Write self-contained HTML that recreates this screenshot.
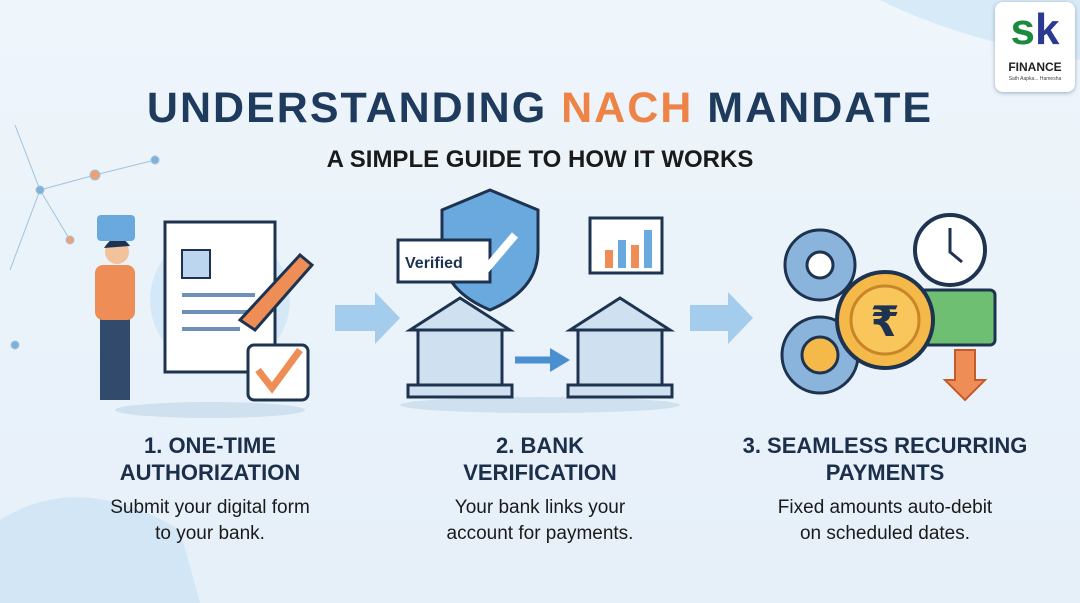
<!DOCTYPE html>
<html><head><meta charset="utf-8"><style>
body{margin:0;width:1080px;height:603px;overflow:hidden;background:linear-gradient(180deg,#eef5fb 0%,#e6f0f9 100%);font-family:"Liberation Sans",sans-serif;position:relative}
.t{position:absolute;text-align:center;color:#1b2f4a}
h1{position:absolute;top:84px;left:0;width:1080px;margin:0;text-align:center;font-size:43px;font-weight:900;color:#1e3a5c;letter-spacing:2px}
h1 span{color:#ee8347}
.sub{top:146px;left:0;width:1080px;font-size:24px;font-weight:700;color:#1a1a1a}
.h{font-size:22px;font-weight:900;line-height:27px;top:432px}
.d{font-size:19px;line-height:26px;top:495px;color:#1a1a1a}
</style></head><body>
<svg width="1080" height="603" style="position:absolute;left:0;top:0">
<path d="M0 520 Q80 470 180 530 L200 603 L0 603Z" fill="#d2e6f6"/>
<path d="M880 0 Q960 40 1080 60 L1080 0Z" fill="#d7eaf8"/>
<g stroke="#9ec3e0" stroke-width="1" fill="#7fb1d8"><line x1="15" y1="125" x2="40" y2="190"/><line x1="40" y1="190" x2="95" y2="175"/><line x1="40" y1="190" x2="10" y2="270"/><line x1="40" y1="190" x2="70" y2="240"/><line x1="95" y1="175" x2="155" y2="160"/><circle cx="40" cy="190" r="4"/><circle cx="95" cy="175" r="5" fill="#f0a070"/><circle cx="155" cy="160" r="4"/><circle cx="70" cy="240" r="4" fill="#f0a070"/><circle cx="15" cy="345" r="4"/></g>
<ellipse cx="210" cy="410" rx="95" ry="8" fill="#cfe0ef"/><ellipse cx="540" cy="405" rx="140" ry="8" fill="#cfe0ef"/>
<rect x="100" y="310" width="30" height="90" fill="#324a6b"/><rect x="95" y="265" width="40" height="55" rx="8" fill="#ee8e56"/><circle cx="117" cy="252" r="12" fill="#f2c29c"/><path d="M104 248 Q117 228 130 246Z" fill="#1e3350"/>
<rect x="97" y="215" width="38" height="26" rx="4" fill="#6aa9dd"/>
<circle cx="220" cy="300" r="70" fill="#d4e8f8"/>
<rect x="165" y="222" width="110" height="150" fill="#fff" stroke="#1e3350" stroke-width="3"/>
<rect x="182" y="250" width="28" height="28" fill="#bcd6ef" stroke="#1e3350" stroke-width="2"/>
<g stroke="#6e90b8" stroke-width="4"><line x1="182" y1="295" x2="255" y2="295"/><line x1="182" y1="312" x2="250" y2="312"/><line x1="182" y1="329" x2="240" y2="329"/></g>
<path d="M240 320 L300 255 L312 265 L255 330Z" fill="#ee8e56" stroke="#1e3350" stroke-width="3"/>
<rect x="248" y="345" width="60" height="55" rx="6" fill="#fff" stroke="#1e3350" stroke-width="3"/><path d="M258 370 L272 388 L300 350" stroke="#ee8e56" stroke-width="7" fill="none"/>
<path d="M335 305 L375 305 L375 292 L400 318 L375 344 L375 331 L335 331Z" fill="#9cc8ea" opacity=".9"/>
<path d="M690 305 L728 305 L728 292 L753 318 L728 344 L728 331 L690 331Z" fill="#9cc8ea" opacity=".9"/>
<g fill="#cfe0f1" stroke="#1e3350" stroke-width="3">
<path d="M410 330 L460 298 L510 330Z"/><rect x="418" y="330" width="84" height="55"/><rect x="408" y="385" width="104" height="12"/>
<path d="M570 330 L620 298 L670 330Z"/><rect x="578" y="330" width="84" height="55"/><rect x="568" y="385" width="104" height="12"/>
<path d="M490 190 L538 210 L538 250 Q538 290 490 310 Q442 290 442 250 L442 210Z" fill="#6aa9dd"/>
<rect x="398" y="240" width="92" height="42" fill="#fff"/>
<rect x="590" y="218" width="72" height="55" fill="#fff"/>
</g>
<path d="M470 250 L487 268 L515 235" stroke="#fff" stroke-width="8" fill="none"/>
<text x="405" y="268" font-size="16" font-weight="700" fill="#1e3350" font-family="Liberation Sans">Verified</text>
<g fill="#ee8e56"><rect x="605" y="250" width="8" height="18"/><rect x="618" y="240" width="8" height="28" fill="#6aa9dd"/><rect x="631" y="245" width="8" height="23"/><rect x="644" y="230" width="8" height="38" fill="#6aa9dd"/></g>
<path d="M515 360 L555 360" stroke="#4a8fd0" stroke-width="7"/><path d="M550 348 L570 360 L550 372Z" fill="#4a8fd0"/>
<circle cx="820" cy="265" r="35" fill="#8bb4dc" stroke="#1e3350" stroke-width="3"/><circle cx="820" cy="265" r="13" fill="#fff" stroke="#1e3350" stroke-width="3"/>
<circle cx="820" cy="355" r="38" fill="#8bb4dc" stroke="#1e3350" stroke-width="3"/><circle cx="820" cy="355" r="18" fill="#f5b94a" stroke="#1e3350" stroke-width="3"/>
<circle cx="950" cy="250" r="35" fill="#fff" stroke="#1e3350" stroke-width="4"/><path d="M950 228 L950 252 L962 262" stroke="#1e3350" stroke-width="3" fill="none"/>
<rect x="920" y="290" width="75" height="55" rx="5" fill="#6fbf73" stroke="#1e3350" stroke-width="3"/>
<circle cx="885" cy="320" r="48" fill="#f5b94a" stroke="#1e3350" stroke-width="4"/><circle cx="885" cy="320" r="34" fill="#f8c65a" stroke="#c7862a" stroke-width="3"/>
<text x="885" y="336" font-size="42" text-anchor="middle" fill="#1e3350" font-family="DejaVu Sans" font-weight="700">₹</text>
<path d="M955 350 L955 380 L945 380 L965 400 L985 380 L975 380 L975 350Z" fill="#ee8e56" stroke="#c55a2a" stroke-width="2"/>
</svg>
<div style="position:absolute;left:995px;top:2px;width:80px;height:90px;background:#fff;border-radius:8px;box-shadow:0 1px 4px #9ab"></div>
<div class="t" style="left:995px;top:2px;width:80px;font-size:44px;font-weight:900;line-height:56px"><span style="color:#1c8a3c">s</span><span style="color:#2b3990">k</span></div>
<div class="t" style="left:995px;top:60px;width:80px;font-size:12px;font-weight:900;color:#222">FINANCE</div>
<div class="t" style="left:995px;top:76px;width:80px;font-size:5px;color:#444">Sath Aapka... Hamesha</div>
<h1>UNDERSTANDING <span>NACH</span> MANDATE</h1>
<div class="t sub">A SIMPLE GUIDE TO HOW IT WORKS</div>
<div class="t h" style="left:60px;width:300px">1. ONE-TIME<br>AUTHORIZATION</div>
<div class="t d" style="left:60px;width:300px">Submit your digital form<br>to your bank.</div>
<div class="t h" style="left:390px;width:300px">2. BANK<br>VERIFICATION</div>
<div class="t d" style="left:390px;width:300px">Your bank links your<br>account for payments.</div>
<div class="t h" style="left:735px;width:300px">3. SEAMLESS RECURRING<br>PAYMENTS</div>
<div class="t d" style="left:735px;width:300px">Fixed amounts auto-debit<br>on scheduled dates.</div>
</body></html>
